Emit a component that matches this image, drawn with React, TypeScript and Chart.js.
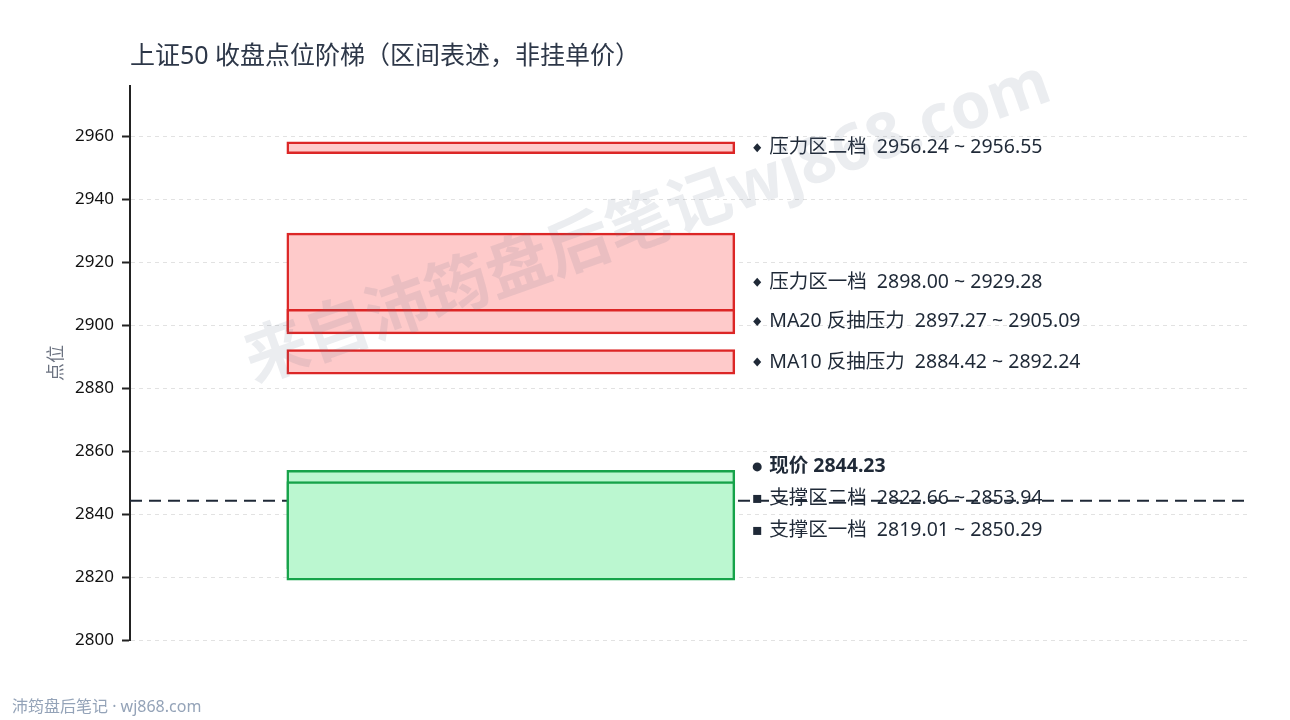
import React, { useEffect, useRef } from 'react';
import { Chart, registerables } from 'chart.js';

Chart.register(...registerables);

const FONT = '"Noto Sans", "Noto Sans CJK SC", sans-serif';

const TITLE = '上证50 收盘点位阶梯（区间表述，非挂单价）';
const FOOTER = '沛筠盘后笔记 · wj868.com';
const WATERMARK = '来自沛筠盘后笔记wj868.com';
const Y_TITLE = '点位';

// zones, drawn in this order (later ones on top)
const zoneNames = ['压力区二档', '压力区一档', 'MA20 反抽压力', 'MA10 反抽压力', '支撑区二档', '支撑区一档'];
const zoneLow = [2956.24, 2898.0, 2897.27, 2884.42, 2822.66, 2819.01];
const zoneHigh = [2956.55, 2929.28, 2905.09, 2892.24, 2853.94, 2850.29];
const zoneSide = ['resist', 'resist', 'resist', 'resist', 'support', 'support'];

const currentPrice = 2844.23;

const yTickValues = [2800, 2820, 2840, 2860, 2880, 2900, 2920, 2940, 2960];
const Y_MIN = 2800;
const Y_MAX = 2976;

// thin zones get a minimum visible height (in points)
const MIN_SPAN = 3.8;
const ZONE_X = 0.34;
const LABEL_X = 0.56;
const LABEL_GAP = 32;

const RED_FILL = '#fecaca';
const RED_LINE = '#dc2626';
const GREEN_FILL = '#bbf7d0';
const GREEN_LINE = '#16a34a';
const INK = '#1f2937';

const ladderOverlay = {
  id: 'ladderOverlay',
  afterDatasetsDraw(chart: any) {
    const { ctx, scales } = chart;
    const y = scales.y;
    const x = scales.x;

    const items: any[] = zoneNames.map((name, i) => ({
      target: y.getPixelForValue((zoneLow[i] + zoneHigh[i]) / 2),
      text: `${name}  ${zoneLow[i].toFixed(2)} ~ ${zoneHigh[i].toFixed(2)}`,
      marker: zoneSide[i] === 'resist' ? 'diamond' : 'square',
      bold: false,
    }));
    items.push({
      target: y.getPixelForValue(currentPrice),
      text: `现价 ${currentPrice.toFixed(2)}`,
      marker: 'circle',
      bold: true,
    });
    items.sort((a, b) => a.target - b.target);

    // push overlapping labels upwards, starting from the bottom one
    for (let i = items.length - 1; i >= 0; i--) {
      items[i].pos = items[i].target;
      if (i < items.length - 1) items[i].pos = Math.min(items[i].target, items[i + 1].pos - LABEL_GAP);
    }

    const mx = x.getPixelForValue(LABEL_X);
    ctx.save();
    items.forEach(it => {
      const py = it.pos;
      ctx.fillStyle = INK;
      ctx.beginPath();
      if (it.marker === 'diamond') {
        ctx.moveTo(mx, py - 4.5);
        ctx.lineTo(mx + 4, py);
        ctx.lineTo(mx, py + 4.5);
        ctx.lineTo(mx - 4, py);
        ctx.closePath();
      } else if (it.marker === 'square') {
        ctx.rect(mx - 4, py - 4, 8, 8);
      } else {
        ctx.arc(mx, py, 4.5, 0, Math.PI * 2);
      }
      ctx.fill();
      ctx.font = `${it.bold ? 'bold ' : ''}19.5px ${FONT}`;
      ctx.textAlign = 'left';
      ctx.textBaseline = 'middle';
      ctx.fillText(it.text, mx + 12, py);
    });
    ctx.restore();
  },
  afterDraw(chart: any) {
    const { ctx, chartArea } = chart;
    ctx.save();
    // title
    ctx.fillStyle = '#2d3748';
    ctx.font = `25px ${FONT}`;
    ctx.textAlign = 'left';
    ctx.textBaseline = 'middle';
    ctx.fillText(TITLE, chartArea.left, 57);
    // footer
    ctx.fillStyle = '#94a3b8';
    ctx.font = `16px ${FONT}`;
    ctx.fillText(FOOTER, 12, 707);
    // watermark
    ctx.translate(648, 224);
    ctx.rotate(-19.5 * Math.PI / 180);
    ctx.fillStyle = 'rgba(100, 116, 139, 0.13)';
    ctx.font = `bold 64px ${FONT}`;
    ctx.textAlign = 'center';
    ctx.fillText(WATERMARK, 0, 0);
    ctx.restore();
  },
};

export default function App() {
  const canvasRef = useRef<HTMLCanvasElement>(null);

  useEffect(() => {
    document.body.style.margin = '0';
    if (!canvasRef.current) return;

    Chart.defaults.font.family = FONT;

    const zoneData = zoneLow.map((lo, i) => {
      let hi = zoneHigh[i];
      let low = lo;
      if (hi - low < MIN_SPAN) {
        const mid = (hi + low) / 2;
        low = mid - MIN_SPAN / 2;
        hi = mid + MIN_SPAN / 2;
      }
      return { x: ZONE_X, y: [low, hi] };
    });

    const chart = new Chart(canvasRef.current, {
      type: 'bar',
      data: {
        datasets: [
          {
            type: 'bar',
            data: zoneData as any,
            backgroundColor: zoneSide.map(s => (s === 'resist' ? RED_FILL : GREEN_FILL)),
            borderColor: zoneSide.map(s => (s === 'resist' ? RED_LINE : GREEN_LINE)),
            borderWidth: 2.5,
            borderSkipped: false,
            barThickness: 448,
            grouped: false,
            order: 1,
          } as any,
          {
            type: 'line',
            data: [
              { x: 0, y: currentPrice },
              { x: 1, y: currentPrice },
            ],
            borderColor: INK,
            borderWidth: 2,
            borderDash: [12, 7],
            pointRadius: 0,
            order: 10,
          } as any,
        ],
      },
      options: {
        responsive: false,
        animation: false,
        layout: { padding: { top: 86, right: 40, bottom: 80, left: 8 } },
        plugins: {
          legend: { display: false },
          tooltip: { enabled: false },
        },
        scales: {
          x: {
            type: 'linear',
            display: false,
            offset: false,
            min: 0,
            max: 1,
          },
          y: {
            min: Y_MIN,
            max: Y_MAX,
            afterBuildTicks: (scale: any) => {
              scale.ticks = yTickValues.map(v => ({ value: v }));
            },
            afterFit: (scale: any) => {
              scale.width = 122;
            },
            ticks: {
              color: '#111111',
              font: { size: 17 },
              padding: 8,
              callback: (v: any) => String(v),
            },
            grid: {
              color: '#e2e2e2',
              lineWidth: 1,
              tickColor: '#222222',
              tickLength: 8,
              tickWidth: 2,
            },
            border: {
              display: true,
              color: '#222222',
              width: 2,
              dash: [4, 4],
            },
            title: {
              display: true,
              text: Y_TITLE,
              color: '#6b7280',
              font: { size: 18 },
              padding: { top: 38, bottom: 0 },
            },
          },
        },
      },
      plugins: [ladderOverlay],
    });

    return () => chart.destroy();
  }, []);

  return (
    <div style={{ width: 1290, height: 720, background: '#ffffff' }}>
      <canvas ref={canvasRef} width={1290} height={720} style={{ width: 1290, height: 720 }} />
    </div>
  );
}
